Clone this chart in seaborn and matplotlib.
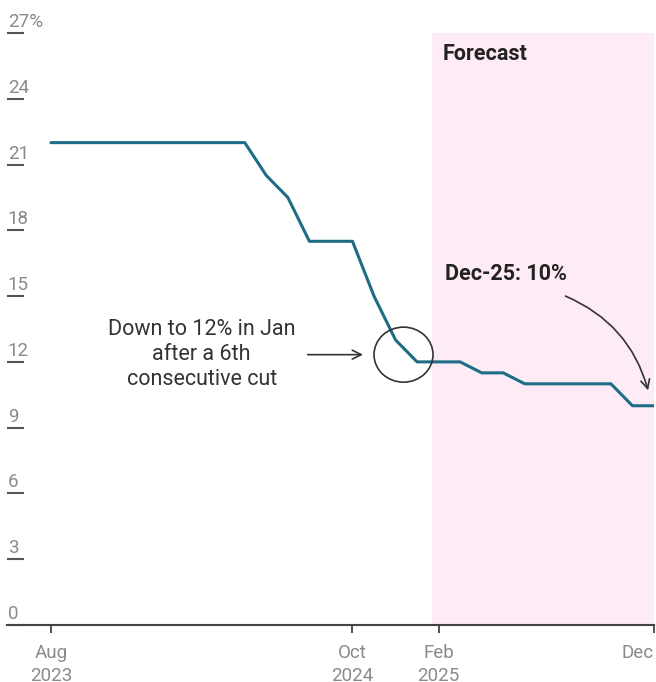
import matplotlib
matplotlib.use("Agg")
import matplotlib.pyplot as plt
import matplotlib.transforms as mtransforms
from matplotlib.patches import Ellipse
import pandas as pd
import seaborn as sns

# Monthly policy rate, Aug 2023 - Dec 2025 (forecast from Feb 2025)
months = pd.period_range("2023-08", "2025-12", freq="M").strftime("%b %Y").tolist()
rates = [22, 22, 22, 22, 22, 22, 22, 22, 22, 22,   # Aug 2023 - May 2024
         20.5, 19.5, 17.5, 17.5, 17.5,              # Jun - Oct 2024
         15, 13, 12,                                 # Nov 2024 - Jan 2025
         12, 12, 11.5, 11.5, 11, 11, 11, 11, 11,     # Feb - Oct 2025
         10, 10]                                     # Nov - Dec 2025

y_ticks = [0, 3, 6, 9, 12, 15, 18, 21, 24, 27]
y_tick_labels = ["0", "3", "6", "9", "12", "15", "18", "21", "24", "27%"]
x_tick_months = ["Aug 2023", "Oct 2024", "Feb 2025", "Dec 2025"]
x_tick_labels = ["Aug\n2023", "Oct\n2024", "Feb\n2025", "Dec"]

df = pd.DataFrame({"month": range(len(months)), "label": months, "rate": rates})

sns.set_theme(style="white")
plt.rcParams["font.family"] = ["Roboto", "DejaVu Sans"]

fig = plt.figure(figsize=(6.56, 6.82), dpi=100)
ax = fig.add_axes([7 / 656, 1 - 625 / 682, 647 / 656, 592 / 682])

forecast_start = 17.7
ax.axvspan(forecast_start, df["month"].iloc[-1], color="#fdebf5", lw=0, zorder=0)

sns.lineplot(data=df, x="month", y="rate", ax=ax, color="#1f6c86", lw=2.2,
             zorder=3)

ax.set_xlim(-2.04, df["month"].iloc[-1])
ax.set_ylim(0, 27)
ax.set_xlabel("")
ax.set_ylabel("")

# y axis: short dashes with the value sitting just above
ax.set_yticks(y_ticks)
ax.set_yticklabels(y_tick_labels)
ax.tick_params(axis="y", direction="in", length=12.5, width=1.5,
               color="#555555", pad=-0.5, labelsize=13.5, labelcolor="#8a8a8a",
               left=True)
shift = mtransforms.ScaledTranslation(0, 0.06, fig.dpi_scale_trans)
for lab in ax.get_yticklabels():
    lab.set_horizontalalignment("left")
    lab.set_verticalalignment("baseline")
    lab.set_transform(lab.get_transform() + shift)

# x axis
x_pos = [months.index(m) for m in x_tick_months]
ax.set_xticks(x_pos)
ax.set_xticklabels(x_tick_labels, linespacing=1.3)
ax.tick_params(axis="x", direction="out", length=5.5, width=1.3,
               color="#444444", pad=8.5, labelsize=13.5, labelcolor="#8a8a8a",
               bottom=True)
ax.get_xticklabels()[-1].set_horizontalalignment("right")

for side in ["left", "top", "right"]:
    ax.spines[side].set_visible(False)
ax.spines["bottom"].set_color("#444444")
ax.spines["bottom"].set_linewidth(1.5)
ax.grid(False)

# annotations
ax.text(18.2, 26.05, "Forecast", fontsize=15.5, fontweight="bold",
        color="#222222", ha="left", va="center")

ax.text(7.0, 12.33, "Down to 12% in Jan\nafter a 6th\nconsecutive cut",
        fontsize=15.5, color="#333333", ha="center", va="center",
        multialignment="center", linespacing=1.25)
ax.annotate("", xy=(14.62, 12.33), xytext=(11.79, 12.33),
            arrowprops=dict(arrowstyle="->", color="#333333", lw=1.2,
                            mutation_scale=16))
ax.add_patch(Ellipse((16.37, 12.33), 2.74, 2.51, fill=False,
                     edgecolor="#333333", lw=1.2, zorder=4))

ax.text(18.3, 16.03, "Dec-25: 10%", fontsize=15.5, fontweight="bold",
        color="#222222", ha="left", va="center")
ax.annotate("", xy=(27.76, 10.58), xytext=(23.77, 15.05),
            arrowprops=dict(arrowstyle="->", color="#333333", lw=1.2,
                            mutation_scale=16,
                            connectionstyle="arc3,rad=-0.25"))

fig.savefig("out.png", dpi=100)
